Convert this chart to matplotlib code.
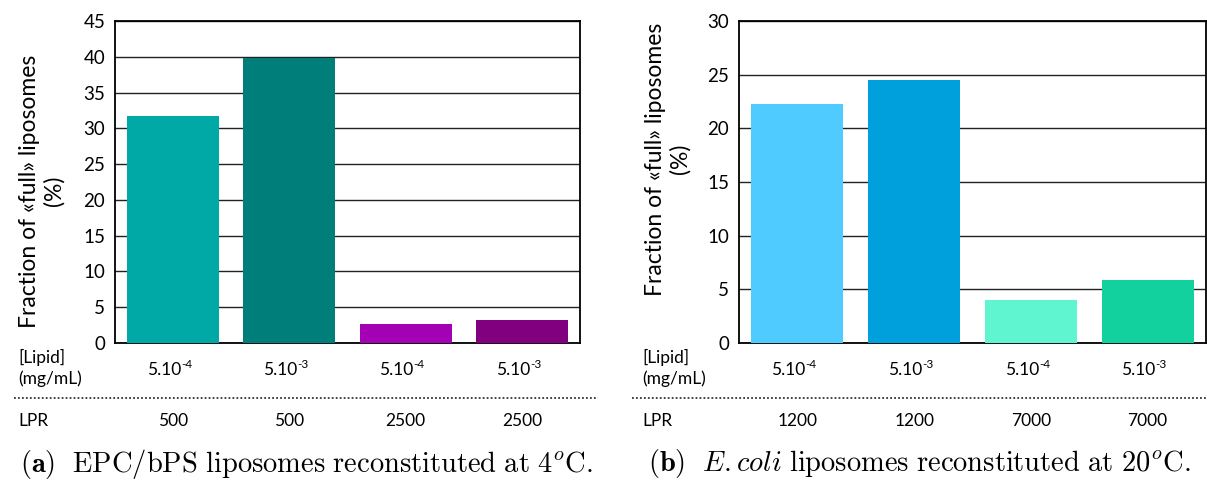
import matplotlib
matplotlib.use("Agg")
import matplotlib.pyplot as plt
from matplotlib.lines import Line2D

plt.rcParams['font.family'] = ['Lato', 'DejaVu Sans']
plt.rcParams['mathtext.fontset'] = 'cm'

# data
lipid_base = ['5.10', '5.10', '5.10', '5.10']
lipid_exp = ['-4', '-3', '-4', '-3']
lpr_a = ['500', '500', '2500', '2500']
lpr_b = ['1200', '1200', '7000', '7000']
values_a = [31.7, 39.8, 2.65, 3.2]
values_b = [22.25, 24.5, 4.0, 5.85]
colors_a = ['#00A9A5', '#007F7A', '#A400B4', '#800080']
colors_b = ['#4FCBFF', '#00A0DC', '#5FF5D0', '#12D19F']
ylim_a, yticks_a = 45, [0, 5, 10, 15, 20, 25, 30, 35, 40, 45]
ylim_b, yticks_b = 30, [0, 5, 10, 15, 20, 25, 30]
caption_a = r'$\mathbf{(a)}\ \ \mathrm{EPC/bPS\ liposomes\ reconstituted\ at\ 4^{\mathit{o}}C.}$'
caption_b = r'$\mathbf{(b)}\ \ \mathit{E.coli}\ \mathrm{liposomes\ reconstituted\ at\ 20^{\mathit{o}}C.}$'

W, H = 1207, 488
fig = plt.figure(figsize=(W / 100, H / 100), dpi=100)


def draw_panel(x0, x1, values, colors, lpr, ylim, yticks, caption, ylab_xy, row_x0, row_x1, label_x):
    ax = fig.add_axes([x0 / W, 1 - 343 / H, (x1 - x0) / W, 322 / H])
    pos = list(range(len(values)))
    ax.bar(pos, values, width=0.79, color=colors, zorder=3)
    ax.set_xlim(-0.5, len(values) - 0.5)
    ax.set_ylim(0, ylim)
    ax.set_yticks(yticks)
    ax.set_xticks([])
    ax.tick_params(axis='y', length=0, labelsize=13.5, pad=7)
    ax.grid(axis='y', color='#222222', linewidth=1.0, zorder=1)
    for sp in ax.spines.values():
        sp.set_linewidth(1.3)
        sp.set_color('black')

    fig.text(ylab_xy[0] / W, 1 - ylab_xy[1] / H, 'Fraction of «full» liposomes\n(%)', rotation=90,
             ha='center', va='center', fontsize=16.5, multialignment='center',
             linespacing=1.2)

    # table rows under the axes
    for i in range(len(values)):
        xpx = ax.transData.transform((i, 0))[0]
        fig.text((xpx + 8) / W, 1 - 370 / H, lipid_base[i], ha='right', va='center', fontsize=12.5)
        fig.text((xpx + 8) / W, 1 - 365 / H, lipid_exp[i], ha='left', va='center', fontsize=8.5)
        fig.text(xpx / W, 1 - 421 / H, lpr[i], ha='center', va='center', fontsize=12.5)
    fig.text(label_x / W, 1 - 368 / H, '[Lipid]\n(mg/mL)', ha='left', va='center',
             fontsize=12.5, linespacing=1.3)
    fig.text(label_x / W, 1 - 421 / H, 'LPR', ha='left', va='center', fontsize=12.5)
    fig.add_artist(Line2D([row_x0 / W, row_x1 / W], [1 - 398 / H, 1 - 398 / H],
                          color='#333333', linestyle=(0, (1, 1.2)), linewidth=1.3))

    fig.text((row_x0 + row_x1) / 2 / W, 1 - 464 / H, caption, ha='center', va='center',
             fontsize=20.5)
    return ax


draw_panel(115, 580, values_a, colors_a, lpr_a, ylim_a, yticks_a, caption_a,
           ylab_xy=(42, 191), row_x0=14, row_x1=598, label_x=18)
draw_panel(739, 1206, values_b, colors_b, lpr_b, ylim_b, yticks_b, caption_b,
           ylab_xy=(668, 159), row_x0=632, row_x1=1207, label_x=642)

fig.savefig('out.png', dpi=100)
